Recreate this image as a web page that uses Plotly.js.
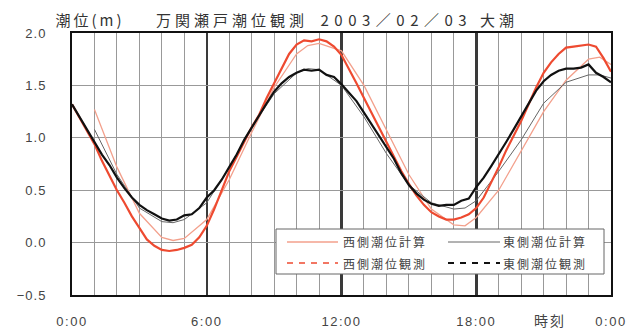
<!DOCTYPE html>
<html><head><meta charset="utf-8">
<script src="https://cdn.plot.ly/plotly-3.0.1.min.js"></script>
<style>
html,body{margin:0;padding:0;background:#fff}
#chart{width:642px;height:332px}
.xtick text{letter-spacing:1.5px}
.ytick text{letter-spacing:1px}
</style>
</head><body><div id="chart"></div>
<script>
// Observation times (hours, 20-minute steps)
const obsHours = [0,0.333,0.667,1,1.333,1.667,2,2.333,2.667,3,3.333,3.667,4,4.333,4.667,5,5.333,5.667,6,6.333,6.667,7,7.333,7.667,8,8.333,8.667,9,9.333,9.667,10,10.333,10.667,11,11.333,11.667,12,12.333,12.667,13,13.333,13.667,14,14.333,14.667,15,15.333,15.667,16,16.333,16.667,17,17.333,17.667,18,18.333,18.667,19,19.333,19.667,20,20.333,20.667,21,21.333,21.667,22,22.333,22.667,23,23.333,23.667,24];
const eastObs = [1.32,1.20,1.08,0.97,0.84,0.74,0.62,0.52,0.43,0.36,0.31,0.27,0.23,0.21,0.22,0.26,0.27,0.33,0.43,0.50,0.60,0.72,0.84,0.98,1.10,1.21,1.33,1.44,1.52,1.58,1.62,1.65,1.64,1.65,1.60,1.58,1.51,1.43,1.35,1.24,1.13,1.02,0.91,0.80,0.66,0.55,0.47,0.41,0.37,0.35,0.36,0.36,0.40,0.42,0.53,0.62,0.73,0.84,0.96,1.08,1.20,1.32,1.45,1.54,1.60,1.64,1.66,1.66,1.67,1.70,1.62,1.58,1.53];
const westObs = [1.32,1.19,1.06,0.94,0.78,0.64,0.50,0.38,0.25,0.14,0.03,-0.03,-0.07,-0.08,-0.07,-0.05,-0.02,0.05,0.16,0.32,0.50,0.68,0.82,0.96,1.10,1.22,1.38,1.52,1.66,1.80,1.89,1.93,1.92,1.94,1.92,1.87,1.79,1.66,1.52,1.38,1.24,1.10,0.96,0.82,0.68,0.56,0.45,0.36,0.29,0.25,0.22,0.22,0.24,0.27,0.33,0.43,0.57,0.72,0.88,1.02,1.16,1.32,1.48,1.62,1.72,1.80,1.86,1.87,1.88,1.89,1.87,1.76,1.63];
// Computed series (hours)
const calcHours = [1,2,3,4,4.5,5,6,7,8,9,10,10.5,11,12,13,14,15,16,17,17.5,18,19,20,21,22,23,23.5,24];
const westCalc = [1.27,0.72,0.28,0.05,0.02,0.04,0.22,0.60,1.05,1.48,1.80,1.88,1.90,1.83,1.50,1.08,0.65,0.32,0.17,0.16,0.24,0.50,0.88,1.25,1.55,1.75,1.77,1.70];
const eastCalc = [1.08,0.65,0.33,0.20,0.19,0.22,0.38,0.72,1.10,1.42,1.62,1.66,1.65,1.50,1.20,0.85,0.55,0.38,0.32,0.33,0.40,0.68,0.98,1.33,1.53,1.60,1.60,1.57];
const xTickVals = [0,6,12,18,24];
const xTickText = ['0:00','6:00','12:00','18:00','0:00'];
const names = ['西側潮位計算','東側潮位計算','西側潮位観測','東側潮位観測'];
const titleParts = ['潮位(m)','万関瀬戸潮位観測','2003／02／03','大潮'];
const xAxisLabel = '時刻';

const FONT = 'Liberation Sans, Noto Sans CJK JP, sans-serif';
const CJK = 'Noto Sans CJK JP, sans-serif';
const cWestObs = '#ee4a30', cWestCalc = '#f3a08c', cEastCalc = '#666666', cEastObs = '#111111';
const styles = [
  {color:cWestCalc, width:1.3, dash:'solid'},
  {color:cEastCalc, width:1, dash:'solid'},
  {color:cWestObs, width:1.5, dash:'6px,6px'},
  {color:cEastObs, width:2.2, dash:'6px,6px'}
];

const traces = [
  {x: calcHours, y: westCalc, mode:'lines', line:{color:cWestCalc, width:1.3}, name:names[0]},
  {x: calcHours, y: eastCalc, mode:'lines', line:{color:cEastCalc, width:1}, name:names[1]},
  {x: obsHours, y: westObs, mode:'lines', line:{color:cWestObs, width:2.2}, name:names[2]},
  {x: obsHours, y: eastObs, mode:'lines', line:{color:cEastObs, width:2.2}, name:names[3]}
];

// layout helpers (pixel -> paper)
const M = {l:72, r:31, t:33, b:37};
const PW = 642 - M.l - M.r, PH = 332 - M.t - M.b;
const fx = px => (px - M.l) / PW;
const fy = py => (332 - M.b - py) / PH;

const shapes = [
  {type:'rect', xref:'paper', yref:'paper', x0:fx(276), x1:fx(604), y0:fy(274), y1:fy(229),
   fillcolor:'#fff', line:{color:'#666', width:1}, layer:'above'}
];
const legendPos = [[287,338,385,242],[448,500,545,242],[287,338,385,263],[448,500,545,263]];
const annotations = [
  {text:titleParts[0], x:fx(90), y:fy(20), font:{family:CJK, size:15, color:'#333'}, ls:3},
  {text:titleParts[1], x:fx(232), y:fy(20), font:{family:CJK, size:15, color:'#333'}, ls:4},
  {text:titleParts[2], x:fx(396), y:fy(20), font:{family:CJK, size:15, color:'#333'}, ls:5.5},
  {text:titleParts[3], x:fx(499), y:fy(20), font:{family:CJK, size:15, color:'#333'}, ls:4},
  {text:xAxisLabel, x:fx(550), y:fy(320), font:{family:CJK, size:14, color:'#444'}, ls:2}
];
names.forEach((n, i) => {
  const p = legendPos[i];
  shapes.push({type:'line', xref:'paper', yref:'paper', x0:fx(p[0]), x1:fx(p[1]), y0:fy(p[3]), y1:fy(p[3]),
    line:{color:styles[i].color, width:styles[i].width, dash:styles[i].dash}, layer:'above'});
  annotations.push({text:n, x:fx(p[2]), y:fy(p[3]), font:{family:CJK, size:12, color:'#444'}, ls:2});
});
const spacing = annotations.map(a => a.ls);
annotations.forEach(a => { delete a.ls; Object.assign(a, {xref:'paper', yref:'paper', xanchor:'center', yanchor:'middle', showarrow:false}); });

const layout = {
  width:642, height:332,
  margin:M,
  paper_bgcolor:'#fff', plot_bgcolor:'#fff',
  font:{family:FONT, size:12, color:'#333'},
  showlegend:false,
  xaxis:{range:[0,24], tickvals:xTickVals, ticktext:xTickText, ticks:'', ticklabelstandoff:13,
    showgrid:true, gridcolor:'#3a3a3a', gridwidth:2.5,
    minor:{dtick:1, tick0:0, showgrid:true, gridcolor:'#999', gridwidth:1, ticks:''},
    showline:true, linecolor:'#111', linewidth:2, mirror:true, zeroline:false, fixedrange:true,
    tickfont:{family:FONT, size:13, color:'#444'}},
  yaxis:{range:[-0.5,2.0], dtick:0.5, tick0:0, tickformat:'.1f', ticks:'', ticklabelstandoff:21,
    showgrid:true, gridcolor:'#999', gridwidth:1,
    showline:true, linecolor:'#111', linewidth:2, mirror:true, zeroline:false, fixedrange:true,
    tickfont:{family:FONT, size:13, color:'#444'}},
  shapes:shapes,
  annotations:annotations
};
Plotly.newPlot('chart', traces, layout, {displayModeBar:false, staticPlot:true}).then(() => {
  document.querySelectorAll('g.annotation').forEach(g => {
    const i = +g.getAttribute('data-index');
    const t = g.querySelector('text');
    if (t && spacing[i] != null) t.style.letterSpacing = spacing[i] + 'px';
  });
});
</script></body></html>
